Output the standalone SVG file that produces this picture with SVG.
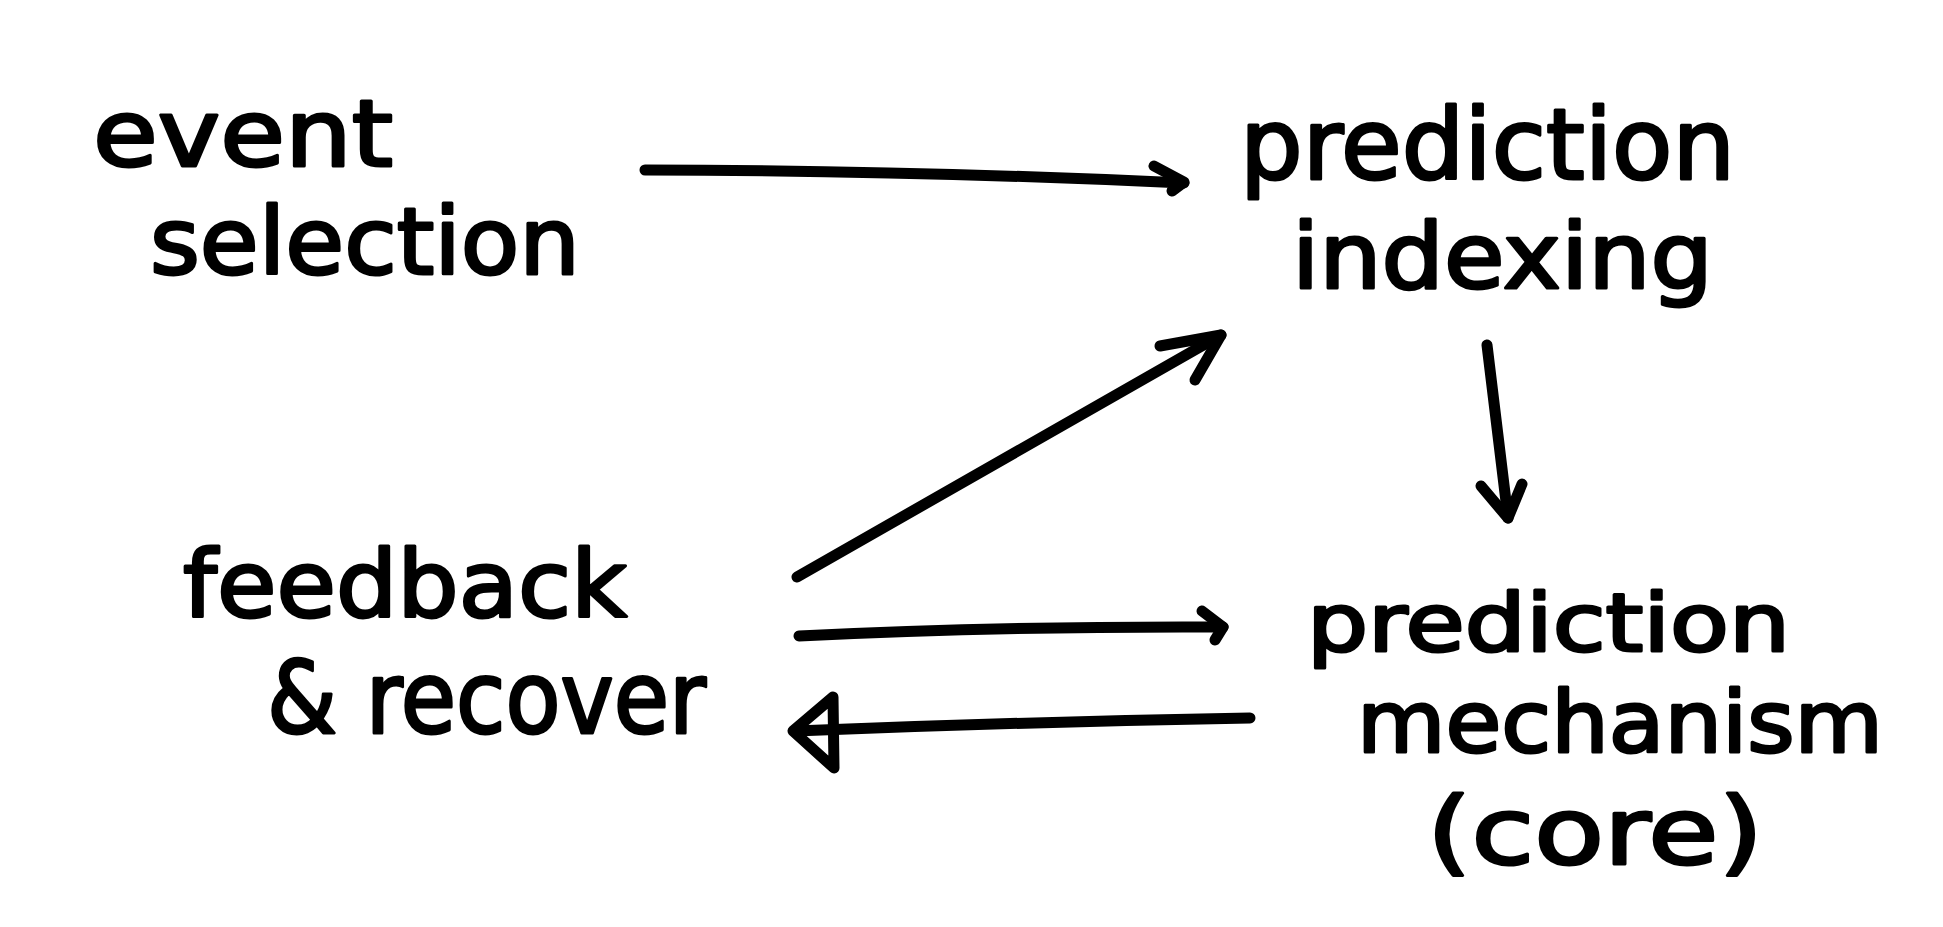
<svg xmlns="http://www.w3.org/2000/svg" width="1943" height="927" viewBox="0 0 1943 927">
<style>
.lbl{font-family:"DejaVu Sans","Liberation Sans",sans-serif;fill:#000;stroke:#000;stroke-width:3;stroke-linejoin:round}
.con{fill:none;stroke:#000;stroke-width:11;stroke-linecap:round;stroke-linejoin:round}
</style>
<rect width="1943" height="927" fill="#fff"/>
<g id="node-event-selection">
<text class="lbl" x="93" y="166" font-size="92" textLength="300" lengthAdjust="spacingAndGlyphs">event</text>
<text class="lbl" x="150" y="274" font-size="92" textLength="430" lengthAdjust="spacingAndGlyphs">selection</text>
</g>
<g id="node-prediction-indexing">
<text class="lbl" x="1240" y="179" font-size="98" textLength="495" lengthAdjust="spacingAndGlyphs">prediction</text>
<text class="lbl" x="1292" y="288" font-size="90" textLength="421" lengthAdjust="spacingAndGlyphs">indexing</text>
</g>
<g id="node-feedback-recover">
<text class="lbl" x="183" y="617" font-size="92" textLength="444" lengthAdjust="spacingAndGlyphs">feedback</text>
<text class="lbl" x="267" y="733" font-size="100" textLength="439" lengthAdjust="spacingAndGlyphs">&amp; recover</text>
</g>
<g id="node-prediction-mechanism">
<text class="lbl" x="1307" y="651" font-size="80" textLength="483" lengthAdjust="spacingAndGlyphs">prediction</text>
<text class="lbl" x="1357" y="752" font-size="86" textLength="526" lengthAdjust="spacingAndGlyphs">mechanism</text>
<text class="lbl" x="1427" y="864" font-size="92" textLength="336" lengthAdjust="spacingAndGlyphs">(core)</text>
</g>
<g id="connectors">
<path class="con" d="M645,170 Q900,170 1184,183"/>
<path class="con" d="M1154,166 L1184,182 L1172,191"/>
<path class="con" d="M797,577 Q1000,462 1221,335"/>
<path class="con" d="M1160,346 L1221,335 L1195,380"/>
<path class="con" d="M1487,345 L1508,518"/>
<path class="con" d="M1481,486 L1508,518 L1522,484"/>
<path class="con" d="M799,636 Q1000,626 1223,627"/>
<path class="con" d="M1202,611 L1223,627 L1215,640"/>
<path class="con" d="M1250,718 Q1020,722 795,731"/>
<path class="con" d="M833,697 L793,731 L834,768 Z"/>
</g>
</svg>
